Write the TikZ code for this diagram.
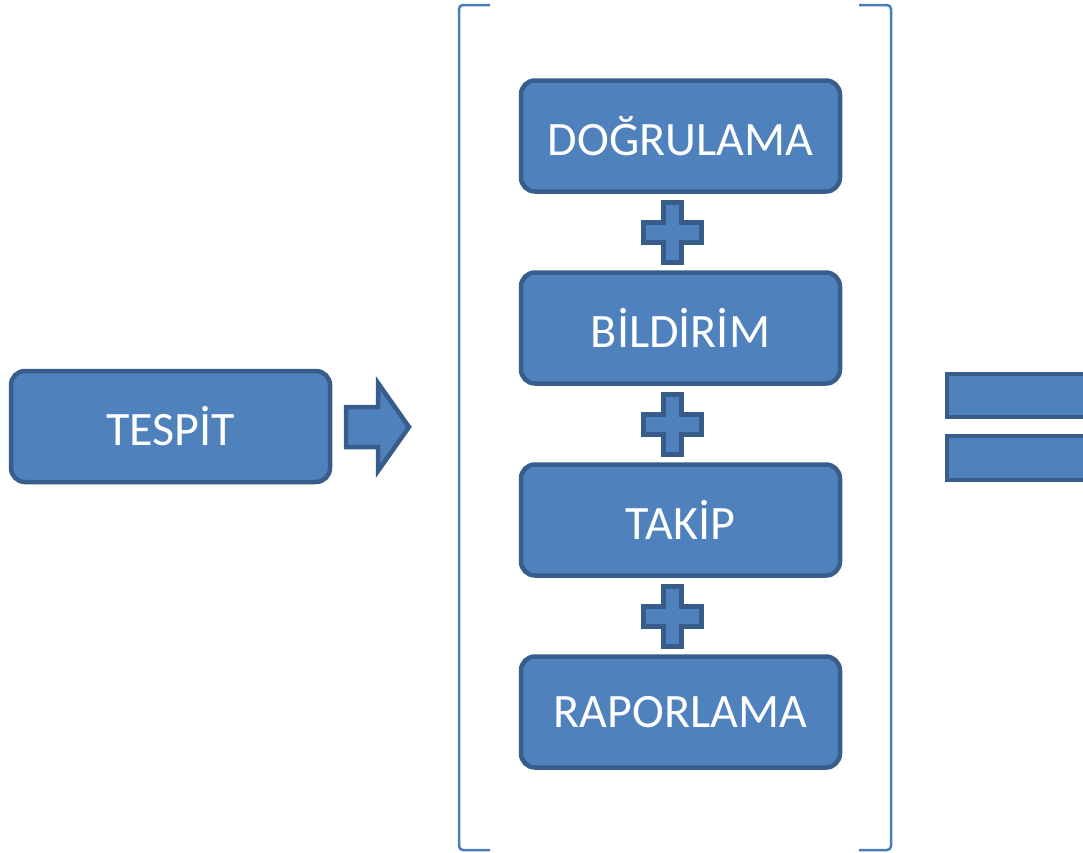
\documentclass[tikz,border=0pt]{standalone}
\usepackage{fontspec}
\setmainfont{Carlito}
\definecolor{fillblue}{HTML}{4F81BD}
\definecolor{edgeblue}{HTML}{385D8A}
\definecolor{brblue}{HTML}{4A7EBB}
\begin{document}
\begin{tikzpicture}[x=1pt,y=-1pt,
  box/.style={draw=edgeblue,fill=fillblue,line width=4.5pt,rounded corners=14pt,
    minimum width=319pt,minimum height=111pt,text=white,font=\fontsize{48}{56}\selectfont,inner sep=0pt},
  blockshape/.style={draw=edgeblue,fill=fillblue,line width=4.5pt,line join=miter},
  bracketline/.style={draw=brblue,line width=2.5pt}]
\useasboundingbox (0,0) rectangle (1083,852);
\clip (0,0) rectangle (1083,852);
% left box
\node[box] (tespit) at (170.5,426.5) {TESPİT};
% arrow
\path[blockshape] (346,407) -- (378,407) -- (378,383) -- (409,427) -- (378,471) -- (378,447) -- (346,447) -- cycle;
% bracket
\draw[bracketline] (490,5) -- (463,5) to[out=180,in=90] (459,9) -- (459,846) to[out=-90,in=180] (463,850) -- (490,850);
\draw[bracketline] (859,5) -- (887,5) to[out=0,in=90] (891,9) -- (891,846) to[out=-90,in=0] (887,850) -- (859,850);
% middle boxes
\node[box] (dog) at (680.5,136) {DOĞRULAMA};
\node[box] (bil) at (680.5,328) {BİLDİRİM};
\node[box] (tak) at (680.5,520) {TAKİP};
\node[box] (rap) at (680.5,712) {RAPORLAMA};
% plus signs
\foreach \cy in {232.5,424.5,616.5}{
  \path[blockshape] (663.5,\cy-30) -- (681.5,\cy-30) -- (681.5,\cy-10) -- (701.5,\cy-10) -- (701.5,\cy+10)
    -- (681.5,\cy+10) -- (681.5,\cy+30) -- (663.5,\cy+30) -- (663.5,\cy+10) -- (643.5,\cy+10)
    -- (643.5,\cy-10) -- (663.5,\cy-10) -- cycle;
}
% equals sign
\path[blockshape] (947,374) rectangle (1110,417);
\path[blockshape] (947,436) rectangle (1110,480);
\end{tikzpicture}
\end{document}
